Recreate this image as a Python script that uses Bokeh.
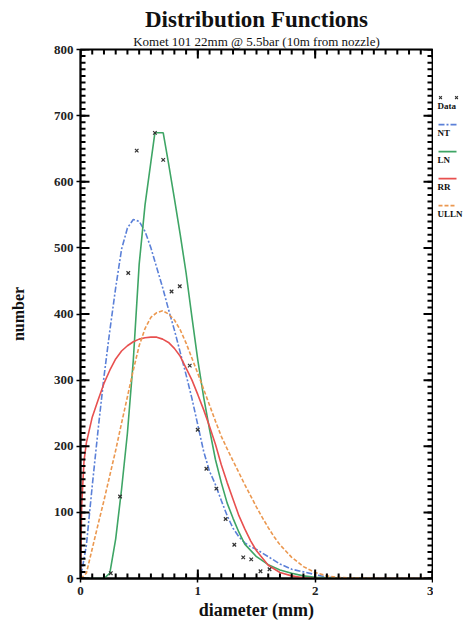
from bokeh.plotting import figure
from bokeh.models import Range1d, FixedTicker, Title, ColumnDataSource
from bokeh.layouts import row
from bokeh.core.properties import value
from bokeh.embed import file_html
from bokeh.resources import INLINE

# measured drop counts per diameter class
data_d = [0.258, 0.337, 0.407, 0.479, 0.634, 0.705, 0.776, 0.846, 0.931, 0.999,
          1.073, 1.158, 1.237, 1.311, 1.387, 1.455, 1.534, 1.611]
data_n = [8, 124, 462, 647, 674, 633, 434, 442, 322, 225,
          166, 136, 90, 51, 32, 29, 11, 14]

# fitted distributions
nt_d = [0.0, 0.05, 0.1, 0.15, 0.2, 0.25, 0.3, 0.35, 0.4, 0.45, 0.5, 0.55, 0.6, 0.65,
        0.7, 0.75, 0.8, 0.85, 0.9, 0.95, 1.0, 1.05, 1.1, 1.15, 1.2, 1.25, 1.3, 1.35,
        1.4, 1.45, 1.5, 1.6, 1.7, 1.8, 1.9, 2.0, 2.1, 2.2, 2.4, 3.0]
nt_n = [0, 50, 140, 225, 305, 375, 440, 498, 530, 543, 540, 525, 500, 470,
        440, 407, 376, 342, 308, 272, 232, 192, 162, 142, 118, 95, 76, 63,
        54, 48, 44, 33, 22, 14, 10, 6, 2, 1, 0, 0]

ln_d = [0.0, 0.2, 0.25, 0.3, 0.35, 0.4, 0.45, 0.5, 0.55, 0.6, 0.634, 0.705, 0.75,
        0.8, 0.85, 0.9, 0.95, 1.0, 1.05, 1.1, 1.15, 1.2, 1.25, 1.3, 1.35, 1.4, 1.5,
        1.6, 1.7, 1.8, 1.9, 2.0, 2.2, 2.5, 3.0]
ln_n = [0, 0, 8, 60, 135, 220, 330, 475, 565, 630, 674, 674, 628,
        575, 520, 462, 395, 330, 274, 225, 180, 145, 114, 91, 70, 52, 33,
        21, 13, 8, 4, 2, 0.5, 0, 0]

rr_d = [0.0, 0.01, 0.03, 0.05, 0.1, 0.15, 0.2, 0.25, 0.3, 0.35, 0.4, 0.45, 0.5,
        0.55, 0.6, 0.65, 0.7, 0.75, 0.8, 0.85, 0.9, 0.95, 1.0, 1.05, 1.1, 1.15,
        1.2, 1.25, 1.3, 1.35, 1.4, 1.45, 1.5, 1.6, 1.7, 1.8, 1.9, 2.0, 3.0]
rr_n = [0, 110, 178, 205, 244, 270, 295, 315, 332, 344, 352, 358, 362,
        364, 365, 365, 362, 357, 348, 336, 318, 300, 278, 255, 230, 203,
        172, 145, 120, 95, 75, 57, 42, 20, 9, 4, 1, 0, 0]

ulln_d = [0.0, 0.05, 0.1, 0.15, 0.2, 0.25, 0.3, 0.35, 0.4, 0.45, 0.5, 0.55, 0.6,
          0.65, 0.7, 0.75, 0.8, 0.85, 0.9, 0.95, 1.0, 1.05, 1.1, 1.15, 1.2, 1.25,
          1.3, 1.35, 1.4, 1.45, 1.5, 1.55, 1.6, 1.65, 1.7, 1.8, 1.9, 2.0, 2.1, 2.2,
          2.5, 3.0]
ulln_n = [0, 8, 45, 82, 118, 156, 194, 235, 275, 315, 352, 378, 395,
          402, 405, 400, 391, 376, 356, 333, 310, 286, 262, 238, 215, 196,
          178, 160, 142, 125, 108, 92, 77, 63, 51, 32, 18, 9, 4, 1.5,
          0, 0]

series_names = ["NT", "LN", "RR", "ULLN"]
x_ticks = [0, 1, 2, 3]
y_ticks = [0, 100, 200, 300, 400, 500, 600, 700, 800]

SERIF = "Liberation Serif"
colors = {"NT": "#5b80d8", "LN": "#3ea565", "RR": "#e8504f", "ULLN": "#eb9850"}
dashes = {"NT": "6 2 2 2", "LN": "solid", "RR": "solid", "ULLN": "4 2"}

X0, X1, Y0, Y1 = 0.0, 3.0, 0.0, 800.0
p = figure(width=433, height=627, x_range=Range1d(X0, X1), y_range=Range1d(Y0, Y1),
           title=None, output_backend="svg", toolbar_location=None,
           min_border_left=80, min_border_bottom=49, min_border_top=49, min_border_right=1)
p.grid.visible = False
p.background_fill_color = "white"
p.border_fill_color = "white"
p.outline_line_color = "black"
p.outline_line_width = 1.8

x_minor = [i / 10 for i in range(31)]
y_minor = [i * 10.0 for i in range(81)]
p.xaxis.ticker = FixedTicker(ticks=x_ticks)
p.yaxis.ticker = FixedTicker(ticks=y_ticks)

for ax in (p.xaxis[0], p.yaxis[0]):
    ax.axis_line_color = "black"
    ax.axis_line_width = 1.8
    ax.major_tick_line_color = "black"
    ax.major_tick_line_width = 1.5
    ax.major_tick_in = 0
    ax.major_tick_out = 4
    ax.minor_tick_in = 0
    ax.minor_tick_out = 0
    ax.major_label_text_font = SERIF
    ax.major_label_text_font_style = "bold"
    ax.major_label_text_font_size = "13px"
    ax.major_label_text_color = "#222222"
    ax.axis_label_text_font = SERIF
    ax.axis_label_text_font_style = "bold"
    ax.axis_label_text_color = "#111111"

p.xaxis.axis_label = "diameter (mm)"
p.yaxis.axis_label = "number"
p.xaxis.axis_label_text_font_size = "18px"
p.yaxis.axis_label_text_font_size = "16px"
p.xaxis.major_label_standoff = 4
p.yaxis.major_label_standoff = 3
p.xaxis.axis_label_standoff = 2
p.yaxis.axis_label_standoff = 24

curves = {"NT": (nt_d, nt_n), "LN": (ln_d, ln_n), "RR": (rr_d, rr_n), "ULLN": (ulln_d, ulln_n)}
for name in series_names:
    d, n = curves[name]
    p.line(d, n, line_color=colors[name], line_width=1.6, line_dash=dashes[name])

p.scatter(data_d, data_n, marker="x", size=5, line_color="#333333", line_width=1.2)

# inward tick marks on all four sides of the frame (lengths in pixels)
px_x = (X1 - X0) / 352.0
px_y = (Y1 - Y0) / 529.0
tk = {"x0": [], "y0": [], "x1": [], "y1": []}
for pos_list, length in ((x_minor, 5), (x_ticks, 9)):
    for t in pos_list:
        for edge, sign in ((Y0, 1), (Y1, -1)):
            tk["x0"].append(t)
            tk["x1"].append(t)
            tk["y0"].append(edge)
            tk["y1"].append(edge + sign * length * px_y)
for pos_list, length in ((y_minor, 5), (y_ticks, 9)):
    for t in pos_list:
        for edge, sign in ((X0, 1), (X1, -1)):
            tk["x0"].append(edge)
            tk["x1"].append(edge + sign * length * px_x)
            tk["y0"].append(t)
            tk["y1"].append(t)
p.segment(x0="x0", y0="y0", x1="x1", y1="y1", source=ColumnDataSource(tk),
          line_color="#000000", line_width=2)

p.add_layout(Title(text="Komet 101 22mm @ 5.5bar (10m from nozzle)", align="center",
                   text_font=SERIF, text_font_size="13px", text_font_style="normal",
                   text_color="#111111", standoff=1), "above")
p.add_layout(Title(text="Distribution Functions", align="center",
                   text_font=SERIF, text_font_size="23px", text_font_style="bold",
                   text_color="#111111", standoff=0), "above")

# legend panel to the right of the frame
lg = figure(width=467 - 433, height=627, x_range=Range1d(0, 34), y_range=Range1d(627, 0),
            title=None, output_backend="svg", toolbar_location=None,
            x_axis_type=None, y_axis_type=None, min_border=0)
lg.grid.visible = False
lg.outline_line_color = None
lg.border_fill_color = "white"
lg.background_fill_color = "white"

lg.scatter([7, 23], [57, 57], marker="x", size=4, line_color="#333333", line_width=1.1)
lg.text([4], [67], text=["Data"], text_font=value(SERIF), text_font_size="9px",
        text_font_style="bold", text_baseline="middle", text_color="#111111")
entry_y = [89, 121, 153, 185]
for name, yy in zip(series_names, entry_y):
    lg.line([5, 23], [yy, yy], line_color=colors[name], line_width=1.6, line_dash=dashes[name])
    lg.text([4], [yy + 10], text=[name], text_font=value(SERIF), text_font_size="9px",
            text_font_style="bold", text_baseline="middle", text_color="#111111")

layout = row(p, lg)
open("out.html", "w").write(file_html(layout, INLINE))
